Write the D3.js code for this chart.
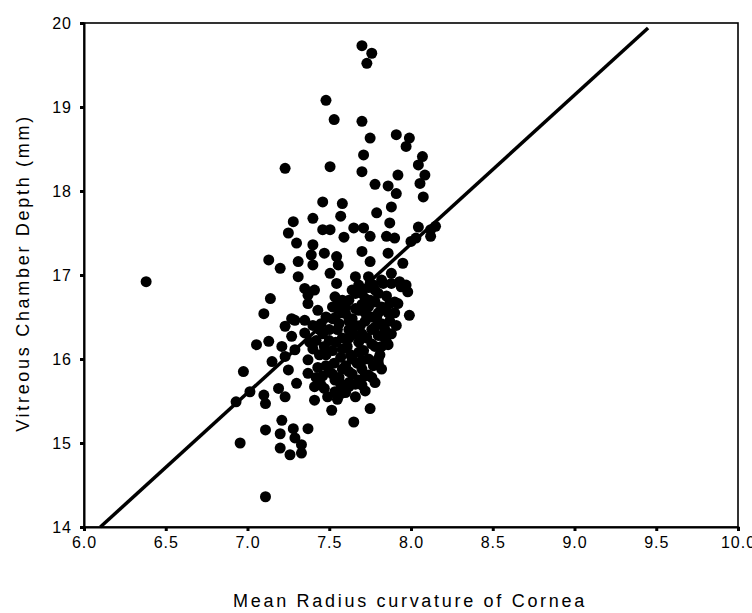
<!DOCTYPE html>
<head>
<meta charset="utf-8">
<script src="https://d3js.org/d3.v7.min.js"></script>
<style>
  body { margin: 0; background: white; }
  text { font-family: 'Liberation Sans', Arial, sans-serif; fill: #000; }
  .tick text { font-size: 16px; letter-spacing: 1px; }
  .title { font-size: 18px; letter-spacing: 2.7px; }
</style>
</head>
<body>
<script>
//DATA
var xTicks = [6.0, 6.5, 7.0, 7.5, 8.0, 8.5, 9.0, 9.5, 10.0];
var yTicks = [14, 15, 16, 17, 18, 19, 20];

// mean radius of curvature (mm)
var radius = [
 7.70,7.76,7.73,7.48,7.53,7.70,7.75,7.91,7.99,7.97,7.71,8.07,8.045,7.70,7.92,8.085,8.055,7.78,7.86,7.91,
 8.075,7.58,7.88,7.57,7.79,7.87,7.65,7.71,7.505,7.59,7.75,7.85,7.90,8.045,8.12,8.15,8.03,8.12,8.00,7.70,
 7.86,7.545,7.75,7.95,7.66,7.88,7.97,7.98,7.545,7.77,7.87,7.92,7.99,7.91,7.23,7.505,7.46,7.40,7.28,7.25,
 7.46,7.30,7.40,7.13,7.20,7.31,7.31,7.39,7.40,7.47,7.555,7.505,7.74,7.35,7.41,7.37,7.14,7.10,7.37,7.43,
 7.27,7.35,7.535,7.62,7.70,7.78,7.82,7.88,7.94,7.90,7.82,7.76,7.68,7.60,7.535,7.45,7.055,7.13,6.975,7.15,
 7.23,7.25,7.21,7.29,7.27,7.35,7.23,7.29,7.37,7.37,7.30,7.19,7.23,7.10,7.11,6.93,7.015,7.41,7.41,7.515,
 7.75,7.80,7.74,7.535,7.62,7.535,7.575,7.49,7.45,7.70,7.86,7.83,7.62,6.955,7.11,7.21,7.20,7.28,7.37,7.33,
 7.20,7.26,7.33,7.29,7.11,7.65,6.38,
 7.46,7.50,7.52,7.55,7.57,7.58,7.60,7.61,7.62,7.63,7.64,7.65,7.66,7.67,7.68,7.69,7.70,7.71,7.72,7.73,
 7.74,7.75,7.76,7.77,7.78,7.79,7.80,7.81,7.82,7.84,7.48,7.50,7.53,7.56,7.58,7.60,7.52,7.47,7.44,7.42,
 7.40,7.43,7.46,7.55,7.66,7.70,7.74,7.78,7.85,7.83,7.87,7.90,7.93,7.68,7.72,7.62,7.58,7.80,7.76,7.85,
 7.50,7.48,7.52,7.56,7.58,7.54,7.62,7.64,7.66,7.68,7.70,7.72,7.74,7.76,7.78,7.80,7.82,7.84,7.86,7.88,
 7.62,7.66,7.70,7.64,7.57,7.52,7.48,7.44,7.40,7.38,7.42,7.47,7.55,7.60,7.66,7.72,7.78,7.82,7.75,7.80,
 7.72,7.64,7.58,7.68
];

// vitreous chamber depth (mm)
var depth = [
 19.73,19.64,19.52,19.08,18.85,18.83,18.63,18.67,18.63,18.53,18.43,18.41,18.31,18.23,18.19,18.19,18.09,18.08,18.06,17.97,
 17.93,17.85,17.81,17.70,17.74,17.62,17.56,17.56,17.54,17.45,17.46,17.46,17.44,17.57,17.54,17.58,17.44,17.46,17.40,17.28,
 17.26,17.22,17.16,17.14,16.98,17.02,16.88,16.80,16.90,16.88,16.66,16.66,16.52,16.40,18.27,18.29,17.87,17.675,17.635,17.50,
 17.54,17.38,17.36,17.18,17.08,17.16,16.98,17.24,17.12,17.26,17.12,17.02,16.98,16.84,16.82,16.76,16.72,16.54,16.66,16.58,
 16.48,16.46,16.74,16.70,16.78,16.82,16.94,16.90,16.86,16.68,16.62,16.50,16.58,16.54,16.48,16.42,16.17,16.21,15.85,15.97,
 16.03,15.87,16.15,16.11,16.27,16.31,16.39,16.46,15.99,15.83,15.71,15.65,15.55,15.57,15.47,15.49,15.61,15.51,15.67,15.39,
 15.41,15.95,15.81,15.75,15.67,15.61,15.59,15.55,15.69,15.69,16.17,16.27,16.35,15.00,15.155,15.27,15.11,15.17,15.17,14.98,
 14.94,14.86,14.88,15.06,14.36,15.25,16.92,
 16.30,16.22,16.10,16.35,16.02,16.25,15.92,16.15,16.45,16.05,15.82,16.30,16.60,15.95,16.20,16.40,15.88,16.10,16.55,16.25,
 16.00,16.70,16.35,15.92,16.15,16.50,16.28,16.05,16.42,16.60,16.05,15.85,15.95,15.78,16.55,16.62,16.48,16.15,16.05,16.22,
 16.12,15.90,15.80,16.65,16.78,16.65,16.85,16.68,16.75,16.90,16.45,16.55,16.92,15.75,15.80,15.72,15.88,16.00,15.78,16.20,
 16.35,16.50,16.62,16.42,16.12,16.20,16.25,16.48,16.40,16.08,16.30,16.45,16.62,16.18,16.38,16.55,16.15,16.35,16.55,16.30,
 15.85,15.70,15.98,16.00,15.70,15.82,15.92,16.35,16.40,16.20,15.78,15.65,15.52,15.60,15.55,15.62,15.72,15.88,16.90,16.78,
 16.72,16.82,16.70,16.88
];

// fitted line end points
var fitX = [6.10, 9.45];
var fitY = [14.0, 19.94];

var points = radius.map((r, i) => ({x: r, y: depth[i]}));

//SCALES
var x = d3.scaleLinear().domain([6, 10]).range([84, 738]);
var y = d3.scaleLinear().domain([14, 20]).range([527, 23]);

var svg = d3.select('body').append('svg')
    .attr('width', 752).attr('height', 613);

//FRAME
svg.append('rect')
    .attr('x', x(6)).attr('y', y(20))
    .attr('width', x(10) - x(6)).attr('height', y(14) - y(20))
    .attr('fill', 'none').attr('stroke', '#000').attr('stroke-width', 1.6);

//AXES
var xAxis = svg.append('g')
    .attr('transform', 'translate(0,' + y(14) + ')')
    .call(d3.axisBottom(x).tickValues(xTicks).tickFormat(d3.format('.1f')).tickSize(4).tickPadding(6));

var yAxis = svg.append('g')
    .attr('transform', 'translate(' + x(6) + ',0)')
    .call(d3.axisLeft(y).tickValues(yTicks).tickFormat(d3.format('d')).tickSize(4).tickPadding(8));

[xAxis, yAxis].forEach(a => {
    a.attr('font-size', null).attr('font-family', null);
    a.select('.domain').attr('stroke-width', 2);
    a.selectAll('.tick line').attr('stroke-width', 3);
});
yAxis.selectAll('.tick text').attr('dy', '0.36em');

//POINTS
svg.append('g').selectAll('circle')
    .data(points).enter()
    .append('circle')
    .attr('cx', d => x(d.x))
    .attr('cy', d => y(d.y))
    .attr('r', 5.5)
    .attr('fill', '#000');

//FIT LINE
svg.append('line')
    .attr('x1', x(fitX[0])).attr('y1', y(fitY[0]))
    .attr('x2', x(fitX[1])).attr('y2', y(fitY[1]))
    .attr('stroke', '#000').attr('stroke-width', 3.5);

//TITLES
svg.append('text')
    .attr('class', 'title')
    .attr('x', 410).attr('y', 607)
    .attr('text-anchor', 'middle')
    .text('Mean Radius curvature of Cornea');

svg.append('text')
    .attr('class', 'title')
    .attr('transform', 'translate(29,273) rotate(-90)')
    .attr('text-anchor', 'middle')
    .text('Vitreous Chamber Depth (mm)');
</script>
</body>
